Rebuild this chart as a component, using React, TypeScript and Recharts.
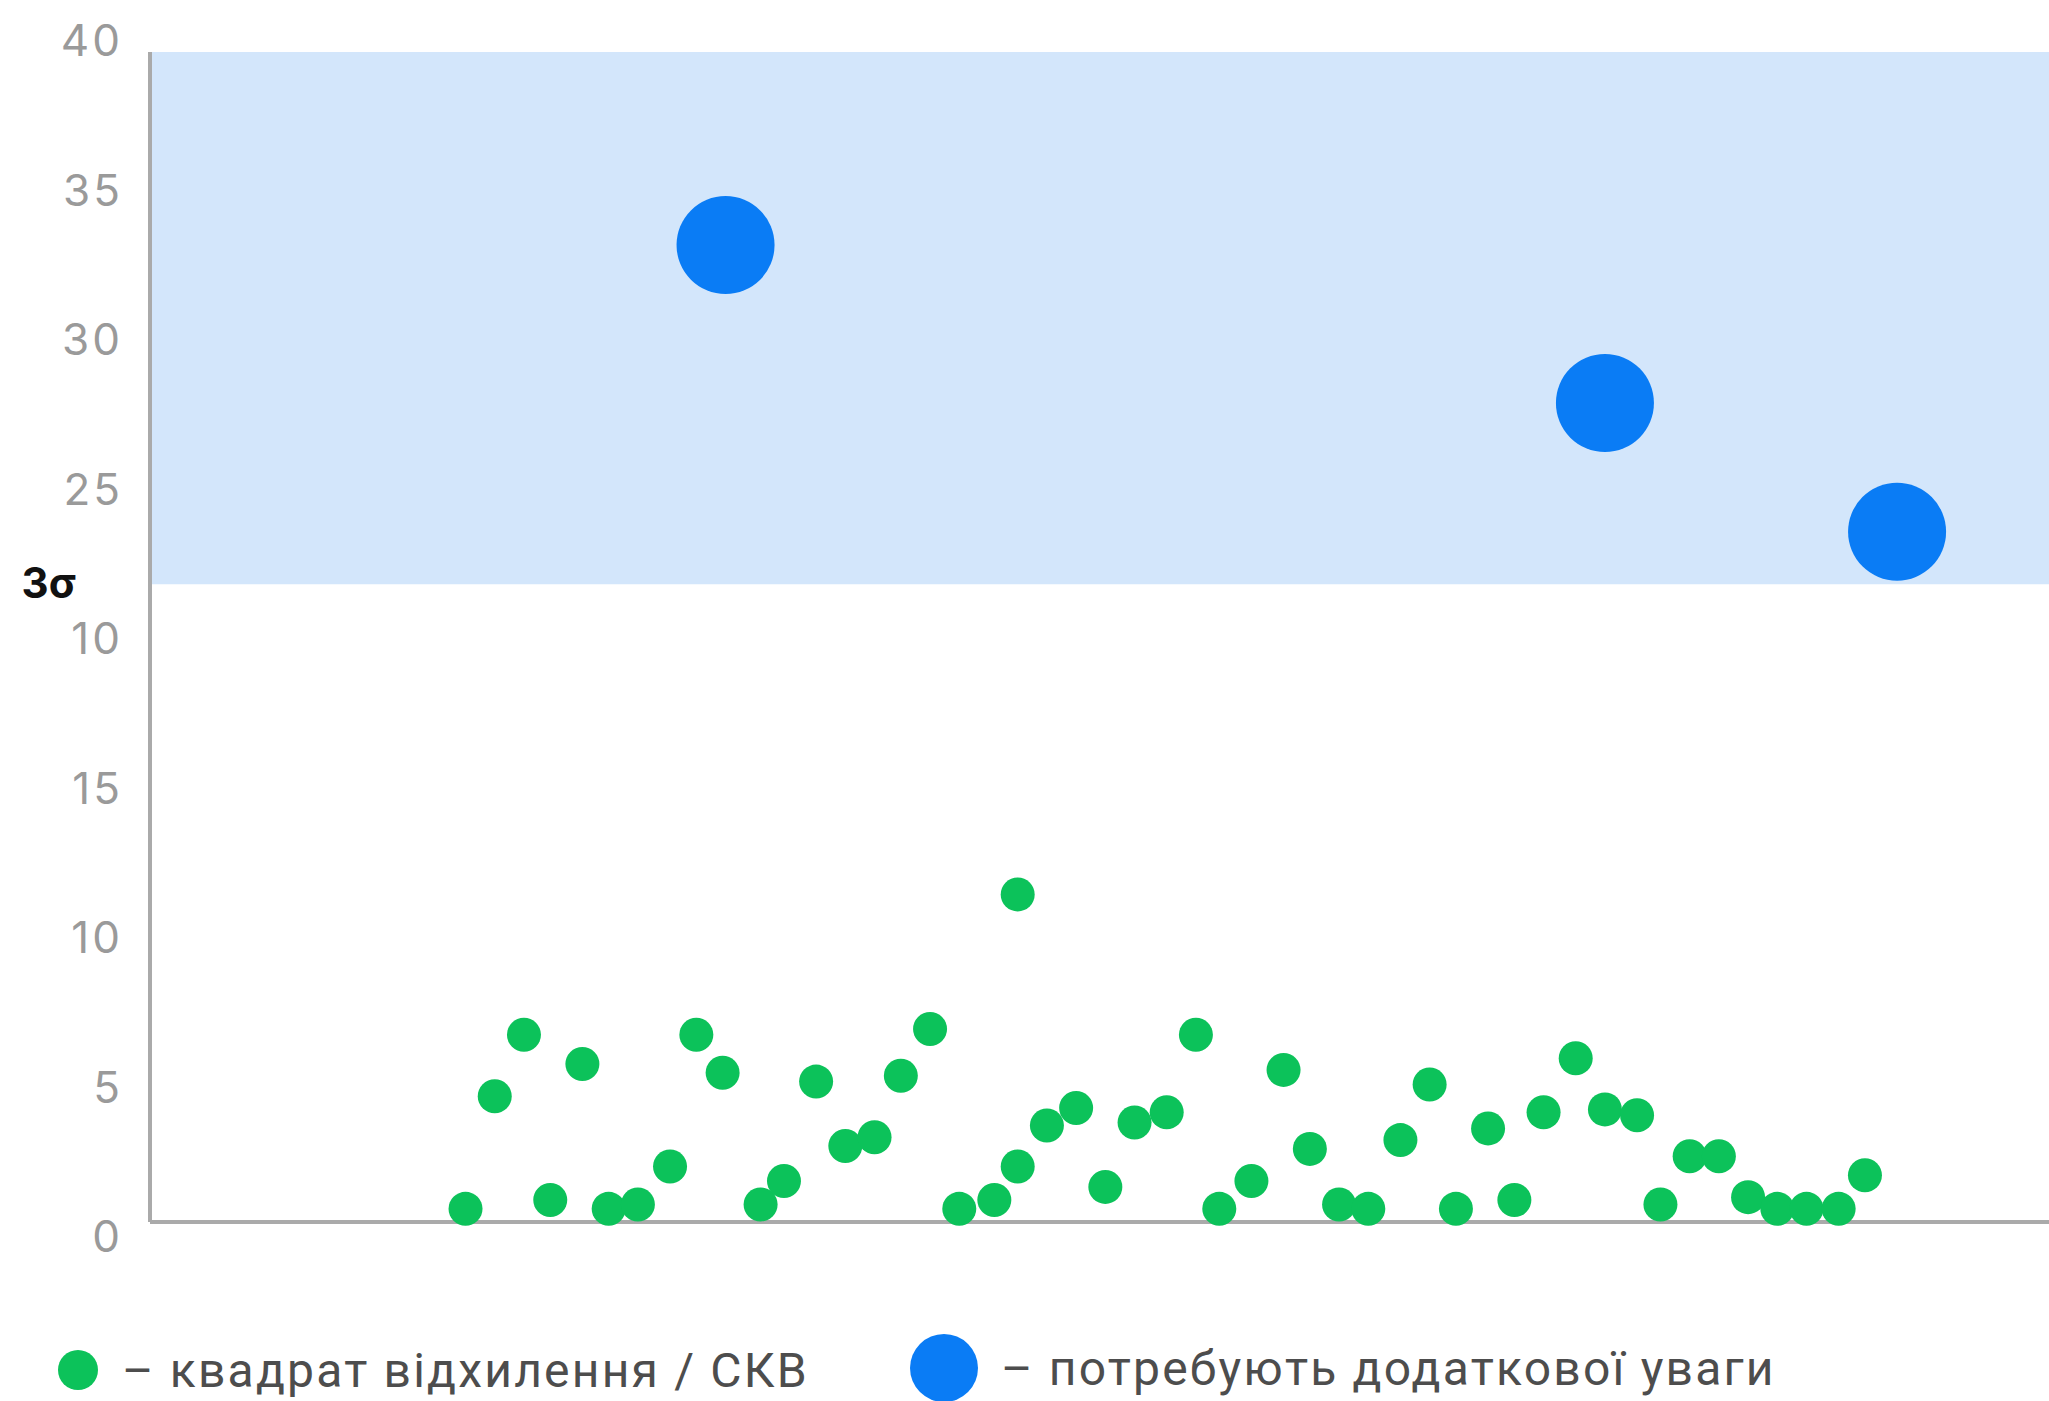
import { ScatterChart, Scatter, XAxis, YAxis, ReferenceArea } from "recharts";

// green dots: squared deviation / std
const normalPoints = [
  { x: 10.8, y: 0.45 }, { x: 11.8, y: 4.3 }, { x: 12.8, y: 6.4 }, { x: 13.7, y: 0.75 },
  { x: 14.8, y: 5.4 }, { x: 15.7, y: 0.45 }, { x: 16.7, y: 0.6 }, { x: 17.8, y: 1.9 },
  { x: 18.7, y: 6.4 }, { x: 19.6, y: 5.1 }, { x: 20.9, y: 0.6 }, { x: 21.7, y: 1.4 },
  { x: 22.8, y: 4.8 }, { x: 23.8, y: 2.6 }, { x: 24.8, y: 2.9 }, { x: 25.7, y: 5.0 },
  { x: 26.7, y: 6.6 }, { x: 27.7, y: 0.45 }, { x: 28.9, y: 0.75 }, { x: 29.7, y: 11.2 },
  { x: 29.7, y: 1.9 }, { x: 30.7, y: 3.3 }, { x: 31.7, y: 3.9 }, { x: 32.7, y: 1.2 },
  { x: 33.7, y: 3.4 }, { x: 34.8, y: 3.75 }, { x: 35.8, y: 6.4 }, { x: 36.6, y: 0.45 },
  { x: 37.7, y: 1.4 }, { x: 38.8, y: 5.2 }, { x: 39.7, y: 2.5 }, { x: 40.7, y: 0.6 },
  { x: 41.7, y: 0.45 }, { x: 42.8, y: 2.8 }, { x: 43.8, y: 4.7 }, { x: 44.7, y: 0.45 },
  { x: 45.8, y: 3.2 }, { x: 46.7, y: 0.75 }, { x: 47.7, y: 3.75 }, { x: 48.8, y: 5.6 },
  { x: 49.8, y: 3.85 }, { x: 50.9, y: 3.65 }, { x: 51.7, y: 0.6 }, { x: 52.7, y: 2.25 },
  { x: 53.7, y: 2.25 }, { x: 54.7, y: 0.85 }, { x: 55.7, y: 0.45 }, { x: 56.7, y: 0.45 },
  { x: 57.8, y: 0.45 }, { x: 58.7, y: 1.6 },
];

// blue dots: need extra attention
const outlierPoints = [
  { x: 19.7, y: 33.4 },
  { x: 49.8, y: 28.0 },
  { x: 59.8, y: 23.6 },
];

const threshold = 21.8; // 3σ
const yTicks = [0, 5, 10, 15, 20, threshold, 25, 30, 35, 40];
// the source labels the 20 tick as "10"
const yTickLabels: Record<number, string> = {
  0: "0", 5: "5", 10: "10", 15: "15", 20: "10", [threshold]: "3σ", 25: "25", 30: "30", 35: "35", 40: "40",
};

const legendItems = ["– квадрат відхилення / СКВ", "– потребують додаткової уваги"];

const GREEN = "#0cc25a";
const BLUE = "#0a7cf5";

const YTick = (props: any) => {
  const { x, y, payload } = props;
  const v = payload.value;
  if (v === threshold) {
    return (
      <text x={x - 66} y={y} dy={14} textAnchor="end" fontSize={42} fontWeight={700} fill="#111" fontFamily="Inter, sans-serif">
        {yTickLabels[v]}
      </text>
    );
  }
  const shift = 15 - 0.65 * v;
  return (
    <text x={x - 19} y={y + shift} dy={15} textAnchor="end" fontSize={44} fill="#9a9a9a" letterSpacing={3} fontFamily="Inter, sans-serif">
      {yTickLabels[v]}
    </text>
  );
};

const legendStyle = {
  position: "absolute" as const,
  height: 68,
  display: "flex",
  alignItems: "center",
  fontFamily: "Roboto, sans-serif",
  fontSize: 48,
  letterSpacing: 2.2,
  color: "#4d4d4d",
  whiteSpace: "nowrap" as const,
};

export default function App() {
  return (
    <div style={{ position: "absolute", left: 0, top: 0, width: 2049, height: 1401, background: "#fff", overflow: "hidden" }}>
      <ScatterChart width={2049} height={1401} margin={{ top: 52, right: 0, bottom: 175, left: 0 }}>
        <ReferenceArea y1={threshold} y2={40} fill="#d3e6fb" fillOpacity={1} stroke="none" ifOverflow="visible" />
        <XAxis type="number" dataKey="x" domain={[0, 65]} tick={false} tickLine={false} height={4} axisLine={{ stroke: "#aaaaaa", strokeWidth: 4 }} />
        <YAxis type="number" dataKey="y" domain={[0, 40]} ticks={yTicks} interval={0} width={150} tickLine={false} axisLine={{ stroke: "#aaaaaa", strokeWidth: 4 }} tick={<YTick />} />
        <Scatter data={normalPoints} isAnimationActive={false} shape={(p: any) => <circle cx={p.cx} cy={p.cy} r={17} fill={GREEN} />} />
        <Scatter data={outlierPoints} isAnimationActive={false} shape={(p: any) => <circle cx={p.cx} cy={p.cy} r={49} fill={BLUE} />} />
      </ScatterChart>
      <div style={{ ...legendStyle, left: 58, top: 1336 }}>
        <span style={{ width: 40, height: 40, borderRadius: "50%", background: GREEN, display: "inline-block" }} />
        <span style={{ marginLeft: 24 }}>{legendItems[0]}</span>
      </div>
      <div style={{ ...legendStyle, left: 910, top: 1334 }}>
        <span style={{ width: 68, height: 68, borderRadius: "50%", background: BLUE, display: "inline-block" }} />
        <span style={{ marginLeft: 23 }}>{legendItems[1]}</span>
      </div>
    </div>
  );
}
